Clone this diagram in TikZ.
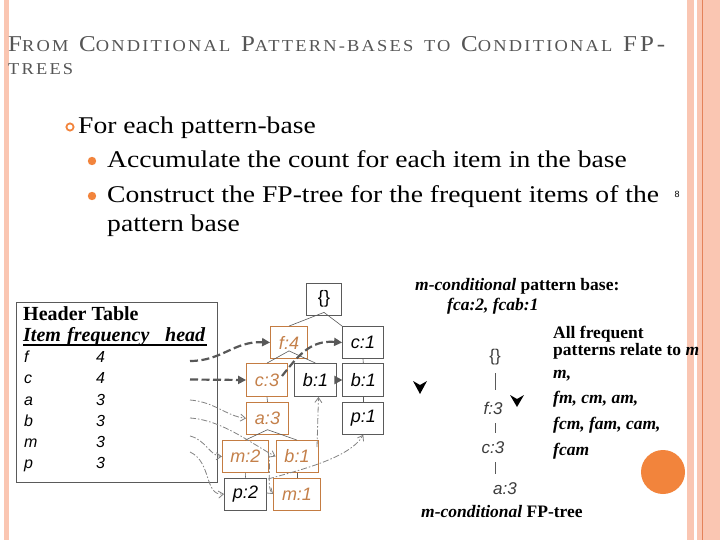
\documentclass[tikz,border=0pt]{standalone}
\usepackage{fontspec}
\usepackage{graphicx}
\usetikzlibrary{arrows.meta,calc}
\newfontfamily\bodyfont[FakeStretch=1.15]{Liberation Serif}
\newfontfamily\tnr{Liberation Serif}
\newfontfamily\titlefont[LetterSpace=12]{Liberation Serif}
\newfontfamily\lsans{Liberation Sans}
\newcommand{\Bc}[1]{{\fontsize{21}{21}\selectfont #1}}
\newcommand{\Sc}[1]{{\fontsize{15.5}{15.5}\selectfont #1}}
\newcommand{\Tsp}{\hspace{9pt}}
\definecolor{barc}{RGB}{250,198,178}
\definecolor{barl}{RGB}{228,130,90}
\definecolor{titlec}{RGB}{85,85,85}
\definecolor{orng}{RGB}{242,132,60}
\definecolor{ondraw}{RGB}{196,124,66}
\definecolor{ontext}{RGB}{196,128,74}
\definecolor{gdraw}{RGB}{90,90,90}
\definecolor{dashc}{RGB}{88,88,88}
\definecolor{thinc}{RGB}{130,130,130}
\definecolor{ctext}{RGB}{60,60,60}
\tikzset{
  treefont/.style={font=\lsans\itshape\fontsize{18}{18}\selectfont},
  onode/.style={treefont, draw=ondraw, text=ontext, line width=0.8pt, minimum height=32pt, inner sep=0pt},
  gnode/.style={treefont, draw=gdraw, text=black, line width=0.8pt, minimum height=32pt, inner sep=0pt},
  tedge/.style={draw=gdraw, line width=0.6pt},
  hlink/.style={draw=dashc, line width=2.2pt, dash pattern=on 8pt off 3.5pt, -{Triangle[length=8pt,width=8pt]}},
  nlink/.style={draw=thinc, line width=0.8pt, dash pattern=on 6pt off 2pt on 1.5pt off 2pt, -{Straight Barb[length=5pt,width=7pt]}},
  body/.style={anchor=base west, inner sep=0pt, font=\bodyfont\fontsize{24}{24}\selectfont},
  rtext/.style={anchor=base west, inner sep=0pt, font=\tnr\bfseries\fontsize{17.5}{17.5}\selectfont},
  rowf/.style={anchor=base west, inner sep=0pt, font=\lsans\itshape\fontsize{16}{16}\selectfont},
  ctree/.style={inner sep=0pt, text=ctext, font=\lsans\itshape\fontsize{17}{17}\selectfont},
}
\begin{document}
\begin{tikzpicture}[x=1pt,y=-1pt]
\useasboundingbox (0,0) rectangle (720,540);
\fill[white] (0,0) rectangle (720,540);
% side bars
\fill[barc] (3.5,0) rectangle (9,540);
\fill[barc] (687,0) rectangle (694,540);
\fill[barc] (697,0) rectangle (720,540);
\draw[barl, line width=1pt] (702,0) -- (702,540);
% title
\node[anchor=base west, text=titlec, inner sep=0pt] (t1) at (8,52)
  {\resizebox{657pt}{15pt}{\titlefont\Bc{F}\Sc{ROM}\Tsp\Bc{C}\Sc{ONDITIONAL}\Tsp\Bc{P}\Sc{ATTERN-BASES}\Tsp\Sc{TO}\Tsp\Bc{C}\Sc{ONDITIONAL}\Tsp\Bc{FP-}}};
\node[anchor=base west, text=titlec, inner sep=0pt] (t2) at (8,75)
  {\resizebox{65pt}{11pt}{\titlefont\Sc{TREES}}};
% bullets
\draw[orng, line width=1.8pt] (70,127) circle (3.6);
\fill[orng] (92,161) circle (4.2);
\fill[orng] (92,196) circle (4.2);
\node[body] (l1) at (78,134) {For each pattern-base};
\node[body] (l2) at (107,168) {Accumulate the count for each item in the base};
\node[body] (l3) at (107,203) {Construct the FP-tree for the frequent items of the};
\node[body] (l4) at (107,232) {pattern base};
\node[inner sep=0pt, font=\lsans\fontsize{9}{9}\selectfont] (sym) at (677,194) {8};
% header table
\node[draw=gdraw, line width=0.8pt, minimum width=201pt, minimum height=180pt, anchor=north west, inner sep=0pt] (htab) at (16,302) {};
\node[anchor=base west, inner sep=0pt, font=\tnr\bfseries\fontsize{20}{20}\selectfont] (htitle) at (23,320) {Header Table};
\node[anchor=base west, inner sep=0pt, font=\tnr\bfseries\itshape\fontsize{20}{20}\selectfont] (hitem) at (23,341) {Item};
\node[anchor=base west, inner sep=0pt, font=\tnr\bfseries\itshape\fontsize{20}{20}\selectfont] (hfreq) at (67,341) {frequency};
\node[anchor=base west, inner sep=0pt, font=\tnr\bfseries\itshape\fontsize{20}{20}\selectfont] (hhead) at (165,341) {head};
\draw[line width=1.8pt] (23,345) -- (207,345);
\node[rowf] (rf) at (24,362) {f};   \node[rowf] (nf) at (96,362) {4};
\node[rowf] (rc) at (24,383) {c};   \node[rowf] (nc) at (96,383) {4};
\node[rowf] (ra) at (24,405) {a};   \node[rowf] (na) at (96,405) {3};
\node[rowf] (rb) at (24,426) {b};   \node[rowf] (nb) at (96,426) {3};
\node[rowf] (rm) at (24,447) {m};   \node[rowf] (nm) at (96,447) {3};
\node[rowf] (rp) at (24,468) {p};   \node[rowf] (np) at (96,468) {3};
% FP-tree nodes
\node[gnode, minimum width=35pt] (root) at (324,299) {\upshape\{\}};
\node[onode, minimum width=37pt] (f4) at (289,342.5) {f:4};
\node[gnode, minimum width=41pt] (c1) at (363,342.5) {c:1};
\node[onode, minimum width=41pt, minimum height=33pt] (c3) at (267,380) {c:3};
\node[gnode, minimum width=42pt, minimum height=33pt] (b1m) at (315.5,380) {b:1};
\node[gnode, minimum width=41pt, minimum height=33pt] (b1r) at (363.3,380) {b:1};
\node[onode, minimum width=42pt] (a3) at (267.5,418.3) {a:3};
\node[gnode, minimum width=41pt] (p1) at (363.3,418.3) {p:1};
\node[onode, minimum width=46pt] (m2) at (245.3,456.5) {m:2};
\node[onode, minimum width=42pt] (b1l) at (297,456.5) {b:1};
\node[gnode, minimum width=42pt] (p2) at (245.5,494) {p:2};
\node[onode, minimum width=47pt] (m1) at (297,494) {m:1};
% tree edges
\draw[tedge] ($(root.south)+(0,-3)$) -- (f4.north);
\draw[tedge] ($(root.south)+(0,-3)$) -- (c1.north west);
\draw[tedge] ($(f4.south)+(0,-8)$) -- (c3.north);
\draw[tedge] ($(f4.south)+(0,-8)$) -- (b1m.north);
\draw[tedge] (c3.south) -- (a3.north);
\draw[tedge] ($(a3.south)+(0,-5)$) -- (m2.north);
\draw[tedge] ($(a3.south)+(0,-5)$) -- (b1l.north);
\draw[tedge] (m2.south) -- (p2.north);
\draw[tedge] (b1l.south) -- (m1.north);
\draw[tedge] (c1.south) -- (b1r.north);
\draw[tedge] (b1r.south) -- (p1.north);
% link start points
\coordinate (hf) at (190,361);
\coordinate (hc) at (190,379.5);
\coordinate (ha) at (190,400);
\coordinate (hb) at (190,418);
\coordinate (hm) at (190,436);
\coordinate (hp) at (190,452);
\coordinate (c3s) at (282,376);
\coordinate (b1ls) at (317,447);
\coordinate (p2s) at (268,479);
\coordinate (m2s) at (268,452);
% thick links
\draw[hlink] (hf) .. controls (222,361) and (234,341) .. (f4.west);
\draw[hlink] (hc) -- (c3.west);
\draw[hlink] (c3s) .. controls (298,356) and (310,340) .. (c1.west);
\draw[hlink, dash pattern=] (b1m.east) -- (b1r.west);
% thin links
\draw[nlink] (ha) .. controls (215,402) and (226,416) .. (a3.west);
\draw[nlink] (hb) .. controls (222,420) and (252,444) .. (b1l.west);
\draw[nlink] (hm) .. controls (206,440) and (210,456) .. (m2.west);
\draw[nlink] (hp) .. controls (212,462) and (204,496) .. (p2.west);
\draw[nlink] (b1ls) -- ($(b1m.south)+(3,0)$);
\draw[nlink] (p2s) .. controls (300,470) and (350,458) .. (p1.south);
\draw[nlink] (m2s) .. controls (272,466) and (266,488) .. (m1.west);
% right side text
\node[rtext] (cpb) at (415,290) {\itshape m-conditional\upshape{} pattern base:};
\node[rtext] (cpbv) at (447,310) {\itshape fca:2, fcab:1};
\node[rtext] (allf) at (553,338) {All frequent};
\node[rtext] (allp) at (553,355) {patterns relate to \itshape m};
\node[rtext] (pm) at (553,378) {\itshape m,};
\node[rtext] (p2l) at (553,403) {\itshape fm, cm, am,};
\node[rtext] (p3l) at (553,429) {\itshape fcm, fam, cam,};
\node[rtext] (p4l) at (553,455) {\itshape fcam};
\node[rtext] (cfp) at (421,517) {\itshape m-conditional\upshape{} FP-tree};
% conditional tree
\node[ctree] (cr) at (495,357) {\upshape\{\}};
\node[ctree] (cf) at (493,408) {f:3};
\node[ctree] (cc) at (493,448) {c:3};
\node[ctree] (ca) at (505,489) {a:3};
\draw[tedge, line width=0.7pt] ($(cr.center)+(0,16)$) -- ($(cr.center)+(0,33)$);
\draw[tedge, line width=0.7pt] ($(cr.center)+(0,66)$) -- ($(cr.center)+(0,76)$);
\draw[tedge, line width=0.7pt] ($(cr.center)+(0,105)$) -- ($(cr.center)+(0,117)$);
% black arrowheads
\fill (413,381) -- (420,394) -- (427,381) -- (420,385) -- cycle;
\fill (510,395) -- (517,407) -- (524,395) -- (517,399) -- cycle;
% orange circle
\fill[orng] (663,472) circle (22);
\end{tikzpicture}
\end{document}
